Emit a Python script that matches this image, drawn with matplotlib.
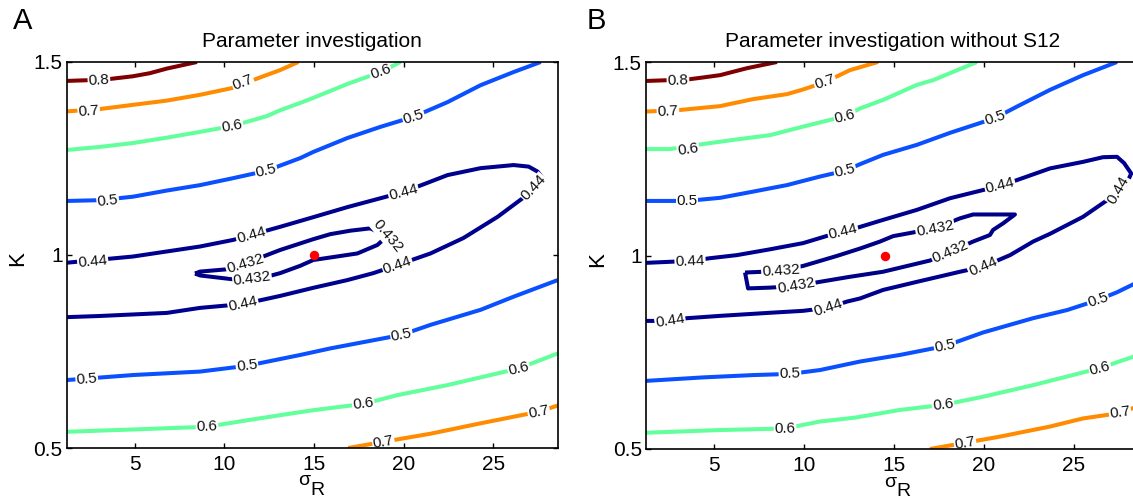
import numpy as np
import matplotlib
matplotlib.use("Agg")
import matplotlib.pyplot as plt

plt.rcParams['font.family'] = ['Liberation Sans', 'DejaVu Sans']

# ---------------- data (sigma_R, K) ----------------
XLIM = (1.2, 28.6)
YLIM = (0.5, 1.5)
X_TICKS = [5, 10, 15, 20, 25]
Y_TICKS = [0.5, 1, 1.5]
Y_TICKLABELS = ['0.5', '1', '1.5']

# Panel A
a08_s = [1.2, 2.49, 3.6, 4.89, 5.84, 6.79, 7.68, 8.47]
a08_k = [1.451, 1.453, 1.456, 1.463, 1.471, 1.483, 1.492, 1.5]
a08_lab = [(3.0, 1.452)]

a07u_s = [1.2, 3.04, 4.89, 6.79, 8.64, 10.48, 11.99, 13.11, 14.12]
a07u_k = [1.372, 1.378, 1.389, 1.400, 1.415, 1.433, 1.460, 1.479, 1.5]
a07u_lab = [(2.43, 1.373), (11.04, 1.446)]

a06u_s = [1.2, 3.04, 4.89, 6.79, 8.64, 10.43, 12.38, 13.11, 14.23, 14.96, 16.86, 18.71, 19.83]
a06u_k = [1.272, 1.280, 1.290, 1.304, 1.319, 1.334, 1.360, 1.375, 1.394, 1.407, 1.443, 1.474, 1.5]
a06u_lab = [(10.43, 1.334), (18.71, 1.474)]

a05u_s = [1.2, 3.04, 4.89, 6.79, 8.64, 10.48, 12.33, 14.23, 14.96, 16.86, 18.71, 20.55, 22.45, 24.30, 26.14, 27.65]
a05u_k = [1.140, 1.142, 1.151, 1.167, 1.181, 1.199, 1.218, 1.251, 1.267, 1.303, 1.332, 1.358, 1.396, 1.440, 1.474, 1.5]
a05u_lab = [(3.49, 1.141), (12.33, 1.218), (20.55, 1.358)]

a044_s = [1.2, 4.89, 8.64, 10.48, 11.49, 13.11, 14.96, 16.86, 19.99, 22.45,
          24.30, 26.14, 26.98, 27.48, 27.76, 27.26, 26.64, 25.25, 23.34, 21.50,
          19.65, 18.31, 16.86, 14.96, 13.11, 11.04, 8.64, 6.79, 3.04, 1.2]
a044_k = [0.980, 0.996, 1.022, 1.039, 1.052, 1.073, 1.098, 1.124, 1.163, 1.207,
          1.225, 1.233, 1.229, 1.216, 1.199, 1.174, 1.147, 1.099, 1.044, 1.004,
          0.974, 0.953, 0.935, 0.915, 0.894, 0.873, 0.863, 0.850, 0.842, 0.839]
a044_lab = [(2.65, 0.984), (11.49, 1.052), (19.99, 1.163), (27.26, 1.174),
            (19.65, 0.974), (11.04, 0.873)]

a0432_s = [8.36, 8.64, 10.15, 11.15, 12.16, 13.11, 14.96, 15.91, 17.03, 18.14, 19.09,
           18.54, 17.42, 14.96, 14.23, 13.11, 12.55, 11.54, 10.48, 8.64, 8.36]
a0432_k = [0.952, 0.957, 0.963, 0.977, 0.996, 1.013, 1.041, 1.054, 1.063, 1.069, 1.049,
           1.026, 1.004, 0.987, 0.972, 0.953, 0.946, 0.940, 0.937, 0.947, 0.952]
a0432_lab = [(11.15, 0.977), (11.54, 0.940), (19.09, 1.049)]
a0432_rot = [None, None, -50]

a05l_s = [1.2, 4.89, 8.64, 11.26, 14.23, 15.91, 19.88, 21.50, 24.30, 26.14, 28.6]
a05l_k = [0.676, 0.689, 0.698, 0.713, 0.741, 0.758, 0.793, 0.819, 0.858, 0.892, 0.935]
a05l_lab = [(2.32, 0.678), (11.26, 0.713), (19.88, 0.793)]

a06l_s = [1.2, 4.89, 9.03, 11.43, 13.11, 14.96, 17.75, 19.65, 22.45, 26.42, 28.6]
a06l_k = [0.542, 0.548, 0.555, 0.573, 0.585, 0.598, 0.614, 0.637, 0.663, 0.706, 0.745]
a06l_lab = [(9.03, 0.555), (17.75, 0.614), (26.42, 0.706)]

a07l_s = [16.91, 18.87, 21.50, 24.30, 26.14, 27.54, 28.6]
a07l_k = [0.5, 0.516, 0.537, 0.564, 0.581, 0.594, 0.610]
a07l_lab = [(18.87, 0.516), (27.54, 0.594)]

a_best = (15.0, 1.0)

# Panel B
b08_s = [1.2, 2.42, 3.54, 4.37, 5.32, 6.82, 8.49]
b08_k = [1.451, 1.453, 1.455, 1.460, 1.466, 1.484, 1.5]
b08_lab = [(2.98, 1.452)]

b07u_s = [1.2, 3.09, 5.32, 7.15, 9.05, 9.94, 11.16, 12.55, 14.11]
b07u_k = [1.372, 1.376, 1.386, 1.404, 1.417, 1.429, 1.448, 1.479, 1.5]
b07u_lab = [(2.42, 1.373), (11.16, 1.448)]

b06u_s = [1.2, 2.54, 4.37, 6.26, 8.10, 9.94, 12.27, 13.11, 14.39, 16.28, 17.17, 19.62]
b06u_k = [1.275, 1.275, 1.288, 1.300, 1.311, 1.333, 1.360, 1.380, 1.402, 1.441, 1.453, 1.5]
b06u_lab = [(3.54, 1.275), (12.27, 1.360)]

b05u_s = [1.2, 3.48, 5.32, 7.15, 9.05, 10.88, 12.27, 13.11, 14.39, 16.28, 18.12, 20.62, 21.85, 23.68, 25.52, 27.41]
b05u_k = [1.141, 1.141, 1.149, 1.165, 1.182, 1.204, 1.219, 1.236, 1.260, 1.286, 1.317, 1.355, 1.385, 1.428, 1.466, 1.5]
b05u_lab = [(3.48, 1.141), (12.27, 1.219), (20.62, 1.355)]

b044_s = [1.2, 3.65, 4.76, 6.26, 8.10, 9.94, 11.44, 12.16, 12.55, 14.39,
          16.28, 18.12, 20.90, 21.85, 23.68, 25.52, 26.63, 27.41, 27.80, 28.20,
          27.74, 27.02, 25.52, 23.68, 22.74, 21.46, 19.95, 18.67, 16.28, 14.39,
          13.11, 12.39, 11.33, 9.94, 8.10, 5.32, 3.48, 2.54, 1.2]
b044_k = [0.981, 0.986, 0.993, 1.001, 1.016, 1.032, 1.053, 1.061, 1.066, 1.092,
          1.118, 1.148, 1.180, 1.195, 1.225, 1.242, 1.254, 1.255, 1.239, 1.212,
          1.165, 1.148, 1.100, 1.056, 1.036, 1.001, 0.971, 0.958, 0.932, 0.911,
          0.889, 0.881, 0.865, 0.857, 0.852, 0.844, 0.838, 0.831, 0.831]
b044_lab = [(3.65, 0.986), (12.16, 1.061), (20.90, 1.180), (27.5, 1.168),
            (19.95, 0.971), (11.33, 0.865), (2.54, 0.831)]
b044_rot = [None, None, None, 60, None, None, None]

b0432_s = [6.71, 7.71, 8.71, 9.94, 11.83, 13.11, 14.22, 14.95, 17.28, 18.67, 19.40, 21.73,
           21.07, 20.51, 20.34, 19.40, 18.12, 17.00, 14.39, 12.55, 10.88, 9.55, 8.10, 6.88, 6.71]
b0432_k = [0.956, 0.958, 0.961, 0.973, 0.999, 1.018, 1.036, 1.050, 1.070, 1.096, 1.106, 1.106,
           1.083, 1.066, 1.053, 1.036, 1.010, 0.987, 0.958, 0.945, 0.932, 0.921, 0.917, 0.915, 0.956]
b0432_lab = [(8.71, 0.961), (9.55, 0.921), (17.28, 1.070), (18.12, 1.010)]

b05l_s = [1.2, 4.37, 7.15, 9.21, 10.88, 13.11, 15.33, 17.84, 19.95, 22.74, 24.63, 26.35, 27.41, 28.6]
b05l_k = [0.676, 0.685, 0.691, 0.694, 0.704, 0.726, 0.743, 0.766, 0.801, 0.838, 0.859, 0.885, 0.905, 0.932]
b05l_lab = [(9.21, 0.694), (17.84, 0.766), (26.35, 0.885)]

b06l_s = [1.2, 5.32, 8.94, 10.88, 12.83, 15.33, 17.73, 19.95, 22.74, 26.46, 28.6]
b06l_k = [0.542, 0.549, 0.553, 0.571, 0.581, 0.601, 0.614, 0.635, 0.665, 0.709, 0.743]
b06l_lab = [(8.94, 0.553), (17.73, 0.614), (26.46, 0.709)]

b07l_s = [17.0, 18.95, 20.90, 23.68, 25.52, 27.58, 28.6]
b07l_k = [0.5, 0.516, 0.532, 0.558, 0.579, 0.593, 0.611]
b07l_lab = [(18.95, 0.516), (27.58, 0.593)]

b_best = (14.5, 1.0)

LEVEL_COLORS = {'0.8': '#7f0000', '0.7': '#ff8c00', '0.6': '#62ff9c',
                '0.5': '#0a50ff', '0.44': '#00008f', '0.432': '#000086'}

panel_a = [('0.8', a08_s, a08_k, a08_lab, None),
           ('0.7', a07u_s, a07u_k, a07u_lab, None),
           ('0.6', a06u_s, a06u_k, a06u_lab, None),
           ('0.5', a05u_s, a05u_k, a05u_lab, None),
           ('0.44', a044_s, a044_k, a044_lab, None),
           ('0.432', a0432_s, a0432_k, a0432_lab, a0432_rot),
           ('0.5', a05l_s, a05l_k, a05l_lab, None),
           ('0.6', a06l_s, a06l_k, a06l_lab, None),
           ('0.7', a07l_s, a07l_k, a07l_lab, None)]
panel_b = [('0.8', b08_s, b08_k, b08_lab, None),
           ('0.7', b07u_s, b07u_k, b07u_lab, None),
           ('0.6', b06u_s, b06u_k, b06u_lab, None),
           ('0.5', b05u_s, b05u_k, b05u_lab, None),
           ('0.44', b044_s, b044_k, b044_lab, b044_rot),
           ('0.432', b0432_s, b0432_k, b0432_lab, None),
           ('0.5', b05l_s, b05l_k, b05l_lab, None),
           ('0.6', b06l_s, b06l_k, b06l_lab, None),
           ('0.7', b07l_s, b07l_k, b07l_lab, None)]

# ---------------- drawing ----------------
W, H = 1133, 501
fig = plt.figure(figsize=(W / 100, H / 100), dpi=100)


def seg_angle(ax, xs, ys, lx, ly):
    pts = ax.transData.transform(np.column_stack([xs, ys]))
    p = ax.transData.transform((lx, ly))
    best, ang = 1e18, 0.0
    for i in range(len(pts) - 1):
        a, b = pts[i], pts[i + 1]
        d = b - a
        L2 = float(d @ d)
        if L2 == 0:
            continue
        t = np.clip(float((p - a) @ d) / L2, 0, 1)
        q = a + t * d
        dist = float(np.hypot(*(p - q)))
        if dist < best:
            best = dist
            ang = np.degrees(np.arctan2(d[1], d[0]))
    if ang > 90:
        ang -= 180
    if ang <= -90:
        ang += 180
    return ang


def draw_panel(rect, lines, best, title, letter, letter_xy, sig_xy, r_xy):
    ax = fig.add_axes(rect)
    ax.set_xlim(*XLIM)
    ax.set_ylim(*YLIM)
    for lev, xs, ys, labs, rots in lines:
        ax.plot(xs, ys, color=LEVEL_COLORS[lev], lw=2.9, solid_joinstyle='round',
                solid_capstyle='butt', zorder=2)
    for lev, xs, ys, labs, rots in lines:
        for j, (lx, ly) in enumerate(labs):
            rot = rots[j] if (rots is not None and rots[j] is not None) else seg_angle(ax, xs, ys, lx, ly)
            ax.text(lx, ly, lev, rotation=rot, rotation_mode='anchor', ha='center', va='center',
                    fontsize=11, color='#111111',
                    bbox=dict(facecolor='white', edgecolor='none', pad=0.5), zorder=2.3)
    ax.plot([best[0]], [best[1]], 'o', color='#ff0000', ms=6.8, mec='none', zorder=3)

    ax.set_xticks(X_TICKS)
    ax.set_yticks(Y_TICKS)
    ax.set_yticklabels(Y_TICKLABELS)
    ax.tick_params(direction='in', top=True, right=True, length=3.5, width=1,
                   labelsize=15)
    ax.tick_params(axis='y', pad=3)
    ax.tick_params(axis='x', pad=5)
    for sp in ax.spines.values():
        sp.set_linewidth(1.2)
        sp.set_zorder(2.5)
    ax.set_title(title, fontsize=15, pad=11)
    ax.set_ylabel('K', fontsize=16, va='center')
    ax.yaxis.set_label_coords(-0.099, 0.49)
    ax.text(sig_xy[0], sig_xy[1], 'σ', transform=ax.transAxes, fontsize=14,
            ha='center', va='baseline')
    ax.text(r_xy[0], r_xy[1], 'R', transform=ax.transAxes, fontsize=14,
            ha='center', va='baseline')
    fig.text(letter_xy[0], letter_xy[1], letter, fontsize=21, ha='center', va='center')
    return ax


draw_panel([66.7 / W, 1 - 448 / H, 491 / W, 386 / H], panel_a, a_best,
           'Parameter investigation', 'A', (23 / W, 1 - 21 / H),
           (0.4833, -0.0959), (0.5108, -0.1225))
draw_panel([646 / W, 1 - 449 / H, 492.4 / W, 387 / H], panel_b, b_best,
           'Parameter investigation without S12', 'B', (596 / W, 1 - 21 / H),
           (0.4955, -0.098), (0.523, -0.1225))

fig.savefig('out.png', dpi=100)
